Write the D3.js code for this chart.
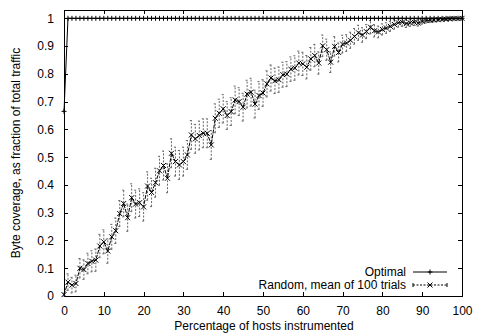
<!DOCTYPE html>
<html><head><meta charset="utf-8">
<script src="https://cdn.jsdelivr.net/npm/d3@7"></script>
<style>
html,body{margin:0;padding:0;background:#fff;}
svg text{font-family:"Liberation Sans",Arial,Helvetica,sans-serif;font-size:12px;fill:#000;}
</style></head>
<body>
<svg id="c" width="479" height="336"></svg>
<script>
const hosts = [0,1,2,3,4,5,6,7,8,9,10,11,12,13,14,15,16,17,18,19,20,21,22,23,24,25,26,27,28,29,30,31,32,33,34,35,36,37,38,39,40,41,42,43,44,45,46,47,48,49,50,51,52,53,54,55,56,57,58,59,60,61,62,63,64,65,66,67,68,69,70,71,72,73,74,75,76,77,78,79,80,81,82,83,84,85,86,87,88,89,90,91,92,93,94,95,96,97,98,99,100];
const optimal = [0.665,1,1,1,1,1,1,1,1,1,1,1,1,1,1,1,1,1,1,1,1,1,1,1,1,1,1,1,1,1,1,1,1,1,1,1,1,1,1,1,1,1,1,1,1,1,1,1,1,1,1,1,1,1,1,1,1,1,1,1,1,1,1,1,1,1,1,1,1,1,1,1,1,1,1,1,1,1,1,1,1,1,1,1,1,1,1,1,1,1,1,1,1,1,1,1,1,1,1,1,1];
const randomMean = [0.005,0.05,0.039,0.045,0.10,0.095,0.117,0.125,0.129,0.18,
  0.195,0.162,0.213,0.235,0.297,0.333,0.282,0.354,0.331,0.336,
  0.321,0.396,0.373,0.408,0.451,0.470,0.424,0.514,0.484,0.472,
  0.484,0.508,0.58,0.566,0.578,0.586,0.586,0.544,0.64,0.658,
  0.674,0.65,0.664,0.706,0.70,0.68,0.727,0.734,0.691,0.722,
  0.731,0.764,0.785,0.775,0.779,0.797,0.799,0.817,0.821,0.839,
  0.836,0.824,0.854,0.866,0.839,0.901,0.887,0.842,0.899,0.877,
  0.907,0.911,0.921,0.935,0.948,0.940,0.952,0.968,0.955,0.951,
  0.960,0.965,0.971,0.978,0.984,0.986,0.981,0.984,0.986,0.983,
  0.989,0.992,0.993,0.994,0.995,0.996,0.997,0.998,0.999,0.999,1.0];
const randomErr = [0.005,0.03,0.028,0.03,0.035,0.035,0.037,0.038,0.04,0.042,
  0.043,0.044,0.045,0.046,0.047,0.048,0.049,0.05,0.05,0.05,
  0.051,0.051,0.051,0.052,0.052,0.052,0.052,0.052,0.052,0.052,
  0.052,0.052,0.052,0.052,0.052,0.052,0.052,0.052,0.052,0.051,
  0.051,0.05,0.05,0.05,0.05,0.05,0.05,0.05,0.05,0.05,
  0.048,0.047,0.047,0.046,0.046,0.045,0.045,0.044,0.044,0.043,
  0.042,0.042,0.041,0.04,0.04,0.039,0.038,0.037,0.035,0.034,
  0.032,0.03,0.029,0.028,0.027,0.026,0.025,0.024,0.022,0.021,
  0.02,0.019,0.018,0.017,0.016,0.015,0.014,0.013,0.012,0.011,
  0.01,0.009,0.008,0.007,0.006,0.005,0.004,0.003,0.002,0.001,0];
const xTicks = [0,10,20,30,40,50,60,70,80,90,100];
const yTicks = [0,0.1,0.2,0.3,0.4,0.5,0.6,0.7,0.8,0.9,1];
const yTickLabels = ["0","0.1","0.2","0.3","0.4","0.5","0.6","0.7","0.8","0.9","1"];
const seriesNames = ["Optimal","Random, mean of 100 trials"];
const xTitle = "Percentage of hosts instrumented";
const yTitle = "Byte coverage, as fraction of total traffic";

const L=64, R=462, T=10, B=296;
const svg = d3.select("#c");
const x = d3.scaleLinear().domain([0,100]).range([L,R]);
const y = d3.scaleLinear().domain([0,1.03]).range([B,T]);
const tl = 4;

const g = svg.append("g");
const axB = d3.axisBottom(x).tickValues(xTicks).tickSize(-tl).tickPadding(tl+6).tickFormat(d3.format("d"));
const axT = d3.axisTop(x).tickValues(xTicks).tickSize(-tl).tickFormat("");
const axL = d3.axisLeft(y).tickValues(yTicks).tickSize(-tl).tickPadding(tl+6).tickFormat((d,i)=>yTickLabels[i]);
const axR = d3.axisRight(y).tickValues(yTicks).tickSize(-tl).tickFormat("");
g.append("g").attr("transform",`translate(0,${B})`).call(axB);
g.append("g").attr("transform",`translate(0,${T})`).call(axT);
g.append("g").attr("transform",`translate(${L},0)`).call(axL);
g.append("g").attr("transform",`translate(${R},0)`).call(axR);
g.selectAll(".domain").remove();
g.selectAll(".tick line").attr("stroke","#000").attr("shape-rendering","crispEdges");
g.selectAll(".tick text").attr("font-family","Liberation Sans, Arial, sans-serif").attr("font-size",11.5).attr("fill","#000");
svg.append("rect").attr("x",L+0.5).attr("y",T+0.5).attr("width",R-L).attr("height",B-T)
  .attr("fill","none").attr("stroke","#000").attr("shape-rendering","crispEdges");

svg.append("text").attr("x",(L+R)/2+1).attr("y",330).attr("text-anchor","middle").text(xTitle);
svg.append("text").attr("transform",`translate(20,${(T+B)/2}) rotate(-90)`).attr("text-anchor","middle").text(yTitle);

const plot = svg.append("g");

const cap = 1.5;
const eb = plot.append("g").attr("stroke","#666").attr("stroke-width",1).attr("stroke-dasharray","2,1.5").attr("fill","none");
hosts.forEach((h,i)=>{
  const e = randomErr[i]; if(!e) return;
  const cx = x(h), y1 = y(randomMean[i]-e), y2 = y(randomMean[i]+e);
  eb.append("line").attr("x1",cx).attr("x2",cx).attr("y1",y1).attr("y2",y2);
  eb.append("line").attr("x1",cx-cap).attr("x2",cx+cap).attr("y1",y1).attr("y2",y1).attr("stroke-dasharray",null);
  eb.append("line").attr("x1",cx-cap).attr("x2",cx+cap).attr("y1",y2).attr("y2",y2).attr("stroke-dasharray",null);
});

const line = d3.line().x((d,i)=>x(hosts[i])).y(d=>y(d));
plot.append("path").datum(randomMean).attr("d",line).attr("fill","none").attr("stroke","#000").attr("stroke-width",1).attr("stroke-dasharray","4,1");
const ms = 2.5;
plot.append("g").selectAll("path").data(randomMean).join("path")
  .attr("d",(d,i)=>{const cx=x(hosts[i]),cy=y(d);return `M${cx-ms},${cy-ms}L${cx+ms},${cy+ms}M${cx-ms},${cy+ms}L${cx+ms},${cy-ms}`;})
  .attr("stroke","#000").attr("stroke-width",1).attr("fill","none");

plot.append("path").datum(optimal).attr("d",line).attr("fill","none").attr("stroke","#000").attr("stroke-width",1);
plot.append("g").selectAll("path").data(optimal).join("path")
  .attr("d",(d,i)=>{const cx=x(hosts[i]),cy=y(d);return `M${cx-ms},${cy}L${cx+ms},${cy}M${cx},${cy-ms}L${cx},${cy+ms}`;})
  .attr("stroke","#000").attr("stroke-width",1).attr("fill","none");

const lx1=413, lx2=447, lt=406;
const ly = [272,285];
svg.append("text").attr("x",lt).attr("y",ly[0]+4).attr("text-anchor","end").text(seriesNames[0]);
svg.append("text").attr("x",lt).attr("y",ly[1]+4).attr("text-anchor","end").text(seriesNames[1]);
svg.append("line").attr("x1",lx1).attr("x2",lx2).attr("y1",ly[0]).attr("y2",ly[0]).attr("stroke","#000");
const mc=(lx1+lx2)/2;
svg.append("path").attr("d",`M${mc-ms},${ly[0]}L${mc+ms},${ly[0]}M${mc},${ly[0]-ms}L${mc},${ly[0]+ms}`).attr("stroke","#000");
svg.append("line").attr("x1",lx1).attr("x2",lx2).attr("y1",ly[1]).attr("y2",ly[1]).attr("stroke","#000").attr("stroke-dasharray","2,1.5");
svg.append("path").attr("d",`M${lx1},${ly[1]-2}L${lx1},${ly[1]+2}M${lx2},${ly[1]-2}L${lx2},${ly[1]+2}`).attr("stroke","#000");
svg.append("path").attr("d",`M${mc-ms},${ly[1]-ms}L${mc+ms},${ly[1]+ms}M${mc-ms},${ly[1]+ms}L${mc+ms},${ly[1]-ms}`).attr("stroke","#000");
</script>
</body></html>
